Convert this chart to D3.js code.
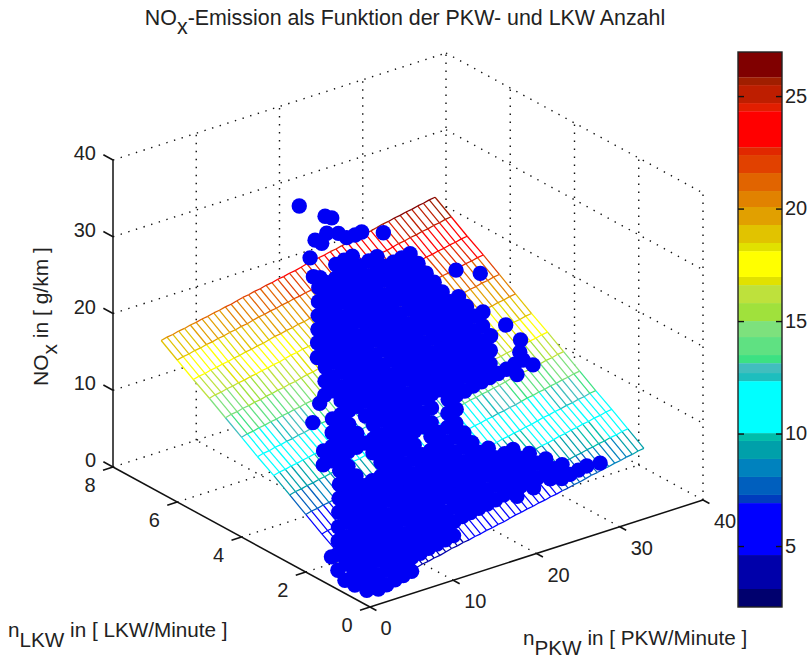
<!DOCTYPE html>
<html>
<head>
<meta charset="utf-8">
<script src="https://cdn.jsdelivr.net/npm/d3@7"></script>
<style>
body { margin: 0; background: #fff; }
text { font-family: "Liberation Sans", Arial, sans-serif; fill: #222; }
.tick text { font-size: 20px; }
</style>
</head>
<body>
<div id="chart"></div>
<script>
// axes
const pkwTicks = [0, 10, 20, 30, 40];
const lkwTicks = [0, 2, 4, 6, 8];
const noxTicks = [0, 10, 20, 30, 40];
const barTicks = [5, 10, 15, 20, 25];

// colour bar bands, edges in g/km
const bandEdges = [2.29, 3.09, 4.6, 6.91, 7.27, 8.07, 8.87, 9.67, 10.02, 12.33, 12.69, 13.13, 13.49, 14.29, 15.0, 15.8, 16.6, 16.96, 18.11, 18.47, 19.27, 20.07, 20.78, 21.58, 22.38, 22.73, 24.33, 24.69, 25.49, 25.84, 26.96];
const bandColors = ["#00006e", "#0000aa", "#0000ff", "#003cbe", "#005fbe", "#0082be", "#00a0aa", "#00beaa", "#00ffff", "#1ebebe", "#41bebe", "#3ce182", "#5fe182", "#7de17d", "#a0e13c", "#bee13c", "#e1e100", "#ffff00", "#e1e100", "#e1c300", "#e1a000", "#e18200", "#e16400", "#e14100", "#e12800", "#ff0000", "#e11e00", "#be1e00", "#a01e00", "#800000"];

// fitted surface
const meshPKW = [0, 0.7, 1.4, 2.1, 2.8, 3.5, 4.2, 4.9, 5.6, 6.3, 7, 7.7, 8.4, 9.1, 9.8, 10.5, 11.2, 11.9, 12.6, 13.3, 14, 14.7, 15.4, 16.1, 16.8, 17.5, 18.2, 18.9, 19.6, 20.3, 21, 21.7, 22.4, 23.1, 23.8, 24.5, 25.2, 25.9, 26.6, 27.3, 28, 28.7, 29.4, 30.1, 30.8, 31.5, 32.2, 32.9];
const meshLKW = [0, 0.5, 1, 1.5, 2, 2.5, 3, 3.5, 4, 4.5, 5, 5.5, 6, 6.5];
const meshNOx = [
  [2.0,2.2,2.3,2.5,2.6,2.8,2.9,3.1,3.2,3.4,3.5,3.7,3.8,4.0,4.2,4.3,4.5,4.6,4.8,4.9,5.1,5.2,5.4,5.5,5.7,5.9,6.0,6.2,6.3,6.5,6.6,6.8,6.9,7.1,7.2,7.4,7.5,7.7,7.9,8.0,8.2,8.3,8.5,8.6,8.8,8.9,9.1,9.2],
  [3.4,3.6,3.7,3.9,4.0,4.2,4.3,4.5,4.6,4.8,4.9,5.1,5.2,5.4,5.6,5.7,5.9,6.0,6.2,6.3,6.5,6.6,6.8,6.9,7.1,7.3,7.4,7.6,7.7,7.9,8.0,8.2,8.3,8.5,8.6,8.8,8.9,9.1,9.3,9.4,9.6,9.7,9.9,10.0,10.2,10.3,10.5,10.6],
  [4.8,5.0,5.1,5.3,5.4,5.6,5.7,5.9,6.0,6.2,6.3,6.5,6.6,6.8,7.0,7.1,7.3,7.4,7.6,7.7,7.9,8.0,8.2,8.3,8.5,8.7,8.8,9.0,9.1,9.3,9.4,9.6,9.7,9.9,10.0,10.2,10.3,10.5,10.7,10.8,11.0,11.1,11.3,11.4,11.6,11.7,11.9,12.0],
  [6.1,6.3,6.4,6.6,6.7,6.9,7.0,7.2,7.3,7.5,7.6,7.8,7.9,8.1,8.3,8.4,8.6,8.7,8.9,9.0,9.2,9.3,9.5,9.6,9.8,10.0,10.1,10.3,10.4,10.6,10.7,10.9,11.0,11.2,11.3,11.5,11.6,11.8,12.0,12.1,12.3,12.4,12.6,12.7,12.9,13.0,13.2,13.3],
  [7.5,7.7,7.8,8.0,8.1,8.3,8.4,8.6,8.7,8.9,9.0,9.2,9.3,9.5,9.7,9.8,10.0,10.1,10.3,10.4,10.6,10.7,10.9,11.0,11.2,11.4,11.5,11.7,11.8,12.0,12.1,12.3,12.4,12.6,12.7,12.9,13.0,13.2,13.4,13.5,13.7,13.8,14.0,14.1,14.3,14.4,14.6,14.7],
  [8.9,9.1,9.2,9.4,9.5,9.7,9.8,10.0,10.1,10.3,10.4,10.6,10.7,10.9,11.1,11.2,11.4,11.5,11.7,11.8,12.0,12.1,12.3,12.4,12.6,12.8,12.9,13.1,13.2,13.4,13.5,13.7,13.8,14.0,14.1,14.3,14.4,14.6,14.8,14.9,15.1,15.2,15.4,15.5,15.7,15.8,16.0,16.1],
  [10.3,10.5,10.6,10.8,10.9,11.1,11.2,11.4,11.5,11.7,11.8,12.0,12.1,12.3,12.5,12.6,12.8,12.9,13.1,13.2,13.4,13.5,13.7,13.8,14.0,14.2,14.3,14.5,14.6,14.8,14.9,15.1,15.2,15.4,15.5,15.7,15.8,16.0,16.2,16.3,16.5,16.6,16.8,16.9,17.1,17.2,17.4,17.5],
  [11.6,11.8,11.9,12.1,12.2,12.4,12.5,12.7,12.8,13.0,13.1,13.3,13.4,13.6,13.8,13.9,14.1,14.2,14.4,14.5,14.7,14.8,15.0,15.1,15.3,15.5,15.6,15.8,15.9,16.1,16.2,16.4,16.5,16.7,16.8,17.0,17.1,17.3,17.5,17.6,17.8,17.9,18.1,18.2,18.4,18.5,18.7,18.8],
  [13.0,13.2,13.3,13.5,13.6,13.8,13.9,14.1,14.2,14.4,14.5,14.7,14.8,15.0,15.2,15.3,15.5,15.6,15.8,15.9,16.1,16.2,16.4,16.5,16.7,16.9,17.0,17.2,17.3,17.5,17.6,17.8,17.9,18.1,18.2,18.4,18.5,18.7,18.9,19.0,19.2,19.3,19.5,19.6,19.8,19.9,20.1,20.2],
  [14.4,14.6,14.7,14.9,15.0,15.2,15.3,15.5,15.6,15.8,15.9,16.1,16.2,16.4,16.6,16.7,16.9,17.0,17.2,17.3,17.5,17.6,17.8,17.9,18.1,18.3,18.4,18.6,18.7,18.9,19.0,19.2,19.3,19.5,19.6,19.8,19.9,20.1,20.3,20.4,20.6,20.7,20.9,21.0,21.2,21.3,21.5,21.6],
  [15.8,16.0,16.1,16.3,16.4,16.6,16.7,16.9,17.0,17.2,17.3,17.5,17.6,17.8,18.0,18.1,18.3,18.4,18.6,18.7,18.9,19.0,19.2,19.3,19.5,19.7,19.8,20.0,20.1,20.3,20.4,20.6,20.7,20.9,21.0,21.2,21.3,21.5,21.7,21.8,22.0,22.1,22.3,22.4,22.6,22.7,22.9,23.0],
  [17.1,17.3,17.4,17.6,17.7,17.9,18.0,18.2,18.3,18.5,18.6,18.8,18.9,19.1,19.3,19.4,19.6,19.7,19.9,20.0,20.2,20.3,20.5,20.6,20.8,21.0,21.1,21.3,21.4,21.6,21.7,21.9,22.0,22.2,22.3,22.5,22.6,22.8,23.0,23.1,23.3,23.4,23.6,23.7,23.9,24.0,24.2,24.3],
  [18.5,18.7,18.8,19.0,19.1,19.3,19.4,19.6,19.7,19.9,20.0,20.2,20.3,20.5,20.7,20.8,21.0,21.1,21.3,21.4,21.6,21.7,21.9,22.0,22.2,22.4,22.5,22.7,22.8,23.0,23.1,23.3,23.4,23.6,23.7,23.9,24.0,24.2,24.4,24.5,24.7,24.8,25.0,25.1,25.3,25.4,25.6,25.7],
  [19.9,20.1,20.2,20.4,20.5,20.7,20.8,21.0,21.1,21.3,21.4,21.6,21.7,21.9,22.1,22.2,22.4,22.5,22.7,22.8,23.0,23.1,23.3,23.4,23.6,23.8,23.9,24.1,24.2,24.4,24.5,24.7,24.8,25.0,25.1,25.3,25.4,25.6,25.8,25.9,26.1,26.2,26.4,26.5,26.7,26.8,27.0,27.1]
];

// measured points, one row per LKW value
const cloudLKW = [0, 0.25, 0.35, 0.5, 0.75, 1, 1.25, 1.5, 1.75, 2, 2.25, 2.5, 2.75, 3, 3.25, 3.5, 3.75, 4, 4.25, 4.5, 4.75, 5, 5.25, 5.5, 5.75, 6, 6.25];
const cloudPKW = [
  [1,2,3,4,5],
  [0,1,2,3,4,5,6,7,8,9,10,11,24,25,26,27],
  [19,21,23],
  [0,1,2,3,4,5,6,7,8,9,10,11,12,13,14,15,16,17,18,19,20,21,22,23,24,25],
  [0,1,2,3,4,5,6,7,8,9,10,11,12,13,14,15,16,17,18,19,20,21,22,23,24],
  [0,1,2,3,4,5,6,7,8,9,10,11,12,13,14,15,16,17,18,19,20,21,22,23],
  [1,2,3,4,5,6,7,8,9,10,11,12,13,14,15,16,17,18,19,20,21,22],
  [2,3,4,5,6,7,8,9,10,11,12,13,14,15,16,17,18,19,20],
  [3,4,5,6,7,8,9,10,11,12,13,14,15,16,17,18,19],
  [4,5,6,7,8,9,10,11,12,13,14,15,16,17,18,19],
  [5,6,7,10,11,12,13,14,16,17,18,19],
  [6,7,10,11,12,13,14,15,16,17,19,20],
  [5,6,7,8,9,10,11,12,13,14,15,16,17,18,20,21,22,23,24,25,26,27,28,29],
  [6,7,8,9,10,12,13,14,15,16,17,18,19,20,21,22,23,24,25,26],
  [8,9,10,12,13,14,15,16,17,18,19,20,21,22,23,24,25,26,27],
  [9,10,11,12,13,14,15,16,17,18,19,20,21,22,23,24,25,26,27,28],
  [11,12,13,14,15,16,17,18,19,20,21,22,23,24,25,26,27,28],
  [10,11,12,13,14,15,16,17,18,19,20,21,22,23,24,25,26,27,28,29],
  [11,12,13,14,15,16,17,18,19,20,21,22,23,24,25,26,27,28],
  [12,13,14,15,16,17,18,19,20,21,22,23,24,25,26,27,28],
  [12,13,14,15,16,17,18,19,20,21,22,23,24,25,26,27],
  [13,14,15,16,17,18,19,20,21,22,23,24,25,26,27],
  [14,15,16,17,18,19,20,21,22,23,24,25,26,27],
  [15,16,17,18,19,20,21,22,23,24,25,26,27],
  [16,17,18,19,20,21,22,23,24,25,26,27],
  [17,18,19,20,21,22,23,24],
  [20,21,22]
];
const cloudNOx = [
  [2.0,2.2,2.5,2.7,2.9],
  [2.5,2.7,2.9,3.2,3.4,3.6,3.8,4.0,4.3,4.5,4.7,4.9,7.8,8.0,8.2,8.4],
  [7.0,7.4,7.9],
  [3.2,3.4,3.6,3.9,4.1,4.3,4.5,4.7,5.0,5.2,5.4,5.6,5.8,6.1,6.3,6.5,6.7,6.9,7.2,7.4,7.6,7.8,8.0,8.3,8.5,8.7],
  [3.9,4.1,4.3,4.6,4.8,5.0,5.2,5.4,5.7,5.9,6.1,6.3,6.5,6.8,7.0,7.2,7.4,7.6,7.9,8.1,8.3,8.5,8.7,9.0,9.2],
  [4.6,4.8,5.0,5.3,5.5,5.7,5.9,6.1,6.4,6.6,6.8,7.0,7.2,7.5,7.7,7.9,8.1,8.3,8.6,8.8,9.0,9.2,9.4,9.7],
  [5.4,5.6,5.9,6.1,6.3,6.5,6.7,7.0,7.2,7.4,7.6,7.8,8.1,8.3,8.5,8.7,8.9,9.2,9.4,9.6,9.8,10.0],
  [6.3,6.6,6.8,7.0,7.2,7.4,7.7,7.9,8.1,8.3,8.5,8.8,9.0,9.2,9.4,9.6,9.9,10.1,10.3],
  [7.3,7.5,7.7,7.9,8.1,8.4,8.6,8.8,9.0,9.2,9.5,9.7,9.9,10.1,10.3,10.6,10.8],
  [8.2,8.4,8.6,8.8,9.1,9.3,9.5,9.7,9.9,10.2,10.4,10.6,10.8,11.0,11.3,11.5],
  [9.1,9.3,9.5,10.2,10.4,10.6,10.9,11.1,11.5,11.7,12.0,12.2],
  [10.0,10.2,10.9,11.1,11.3,11.6,11.8,12.0,12.2,12.4,12.9,13.1],
  [10.5,10.7,10.9,11.2,11.4,11.6,11.8,12.0,12.3,12.5,12.7,12.9,13.1,13.4,13.8,14.0,14.2,14.5,14.7,14.9,15.1,15.3,15.6,15.8],
  [11.4,11.6,11.9,12.1,12.3,12.7,13.0,13.2,13.4,13.6,13.8,14.1,14.3,14.5,14.7,14.9,15.2,15.4,15.6,15.8],
  [12.5,12.7,12.9,13.3,13.6,13.8,14.0,14.2,14.4,14.7,14.9,15.1,15.3,15.5,15.8,16.0,16.2,16.4,16.6],
  [13.4,13.6,13.8,14.0,14.3,14.5,14.7,14.9,15.1,15.4,15.6,15.8,16.0,16.2,16.5,16.7,16.9,17.1,17.3,17.6],
  [14.5,14.7,15.0,15.2,15.4,15.6,15.8,16.1,16.3,16.5,16.7,16.9,17.2,17.4,17.6,17.8,18.0,18.3],
  [15.0,15.2,15.4,15.7,15.9,16.1,16.3,16.5,16.8,17.0,17.2,17.4,17.6,17.9,18.1,18.3,18.5,18.7,19.0,19.2],
  [15.9,16.1,16.4,16.6,16.8,17.0,17.2,17.5,17.7,17.9,18.1,18.3,18.6,18.8,19.0,19.2,19.4,19.7],
  [16.8,17.1,17.3,17.5,17.7,17.9,18.2,18.4,18.6,18.8,19.0,19.3,19.5,19.7,19.9,20.1,20.4],
  [17.5,17.8,18.0,18.2,18.4,18.6,18.9,19.1,19.3,19.5,19.7,20.0,20.2,20.4,20.6,20.8],
  [18.5,18.7,18.9,19.1,19.3,19.6,19.8,20.0,20.2,20.4,20.7,20.9,21.1,21.3,21.5],
  [19.3,19.5,19.7,19.9,20.2,20.4,20.6,20.8,21.0,21.3,21.5,21.7,21.9,22.1],
  [20.2,20.4,20.6,20.9,21.1,21.3,21.5,21.7,22.0,22.2,22.4,22.6,22.8],
  [21.1,21.3,21.6,21.8,22.0,22.2,22.4,22.7,22.9,23.1,23.3,23.5],
  [22.0,22.3,22.5,22.7,22.9,23.1,23.4,23.6],
  [23.4,23.6,23.8]
];

// points that stand apart from the main cloud
const looseLKW = [1.2, 0.78, 1, 0.47, 0.1, 3.62, 3.9, 2.57, 2.93, 3.14, 3.55, 4.73, 5.02, 2.55, 0.17, 6.4, 6.4, 6.4, 6.4, 6.4, 6.4, 6.4, 6.4, 6.4, 6.4, 6.4, 6.4, 6.4, 6.4];
const loosePKW = [0, 0, 0, 0, 0, 7.1, 9, 29.5, 29.3, 30.2, 30, 31.5, 29.7, 27.5, 28.3, 16.2, 19.3, 20.1, 18.1, 19.5, 20.9, 17.5, 22.9, 23.7, 26.3, 17.9, 18.9, 18.7, 21.9];
const looseNOx = [3.8, 1.7, 2.5, 1.8, 1.95, 13.3, 14.5, 15.4, 16.3, 17.1, 18.2, 21.7, 22.1, 14.9, 8.5, 32, 29.6, 29.1, 26.9, 27.3, 26.8, 24.8, 25.9, 26, 25, 22.2, 26.2, 21.8, 25.9];

const width = 810, height = 657;

const svg = d3.select("#chart").append("svg")
    .attr("width", width)
    .attr("height", height)
    .style("display", "block");

// oblique view of the box, one scale per screen direction
const pkwX = d3.scaleLinear().domain([0, 40]).range([0, 333]);
const pkwY = d3.scaleLinear().domain([0, 40]).range([0, -107]);
const lkwX = d3.scaleLinear().domain([0, 8]).range([0, -257]);
const lkwY = d3.scaleLinear().domain([0, 8]).range([0, -140]);
const noxY = d3.scaleLinear().domain([0, 40]).range([0, -307]);
const originX = 370, originY = 607;

function project(p, l, z) {
    return [originX + pkwX(p) + lkwX(l), originY + pkwY(p) + lkwY(l) + noxY(z)];
}

const colorScale = d3.scaleThreshold().domain(bandEdges.slice(1, -1)).range(bandColors);
const line = d3.line();

function segment(parent, a, b, cls) {
    return parent.append("path").attr("class", cls).attr("d", line([a, b])).attr("fill", "none");
}

// dotted box grid
const grid = svg.append("g").attr("stroke", "#111").attr("stroke-width", 1.4).attr("stroke-dasharray", "1.4,6.6");
const pMax = pkwTicks[pkwTicks.length - 1], lMax = lkwTicks[lkwTicks.length - 1], zMax = noxTicks[noxTicks.length - 1];

noxTicks.forEach(z => {
    if (z > 0) {
        segment(grid, project(0, lMax, z), project(pMax, lMax, z), "grid");
        segment(grid, project(pMax, lMax, z), project(pMax, 0, z), "grid");
    }
});
pkwTicks.forEach(p => {
    if (p > 0) {
        segment(grid, project(p, lMax, 0), project(p, lMax, zMax), "grid");
        segment(grid, project(p, 0, 0), project(p, lMax, 0), "grid");
    }
});
lkwTicks.forEach(l => {
    if (l > 0) segment(grid, project(0, l, 0), project(pMax, l, 0), "grid");
    if (l < lMax) {
        segment(grid, project(pMax, l, 0), project(pMax, l, zMax), "grid");
    }
});

// surface: white sheet, then the coloured mesh
const nR = meshLKW.length - 1, nC = meshPKW.length - 1;
svg.append("path")
    .attr("d", line([
        project(meshPKW[0], meshLKW[0], meshNOx[0][0]),
        project(meshPKW[nC], meshLKW[0], meshNOx[0][nC]),
        project(meshPKW[nC], meshLKW[nR], meshNOx[nR][nC]),
        project(meshPKW[0], meshLKW[nR], meshNOx[nR][0])
    ]) + "Z")
    .attr("fill", "#fff");

const mesh = svg.append("g").attr("stroke-width", 1.25).attr("fill", "none");
meshLKW.forEach((l, r) => {
    meshPKW.forEach((p, c) => {
        const here = project(p, l, meshNOx[r][c]);
        if (c < nC) {
            segment(mesh, here, project(meshPKW[c + 1], l, meshNOx[r][c + 1]), "mesh")
                .attr("stroke", colorScale(meshNOx[r][c]));
        }
        if (r < nR) {
            segment(mesh, here, project(p, meshLKW[r + 1], meshNOx[r + 1][c]), "mesh")
                .attr("stroke", colorScale(meshNOx[r][c]));
        }
    });
});

// solid axes with their short ticks
const axes = svg.append("g").attr("stroke", "#111").attr("stroke-width", 1.5).attr("fill", "none");
segment(axes, project(0, 0, 0), project(pMax, 0, 0), "axis");
segment(axes, project(0, 0, 0), project(0, lMax, 0), "axis");
segment(axes, project(0, lMax, 0), project(0, lMax, zMax), "axis");

pkwTicks.forEach(p => segment(axes, project(p, 0, 0), project(p, -0.2, 0), "tick-mark"));
lkwTicks.forEach(l => segment(axes, project(0, l, 0), project(-1.2, l, 0), "tick-mark"));
noxTicks.forEach(z => segment(axes, project(0, lMax, z), project(0, lMax + 0.3, z), "tick-mark"));

// measured points
const cloud = [];
cloudLKW.forEach((l, r) => {
    cloudPKW[r].forEach((p, i) => cloud.push([p, l, cloudNOx[r][i]]));
});
looseLKW.forEach((l, i) => cloud.push([loosePKW[i], l, looseNOx[i]]));

svg.append("g").selectAll("circle")
    .data(cloud)
    .enter()
    .append("circle")
    .attr("cx", d => project(d[0], d[1], d[2])[0])
    .attr("cy", d => project(d[0], d[1], d[2])[1])
    .attr("r", 7.7)
    .attr("fill", "#0000f5");

// tick labels
const labels = svg.append("g").attr("font-size", 20);
labels.selectAll("text.noxLabel")
    .data(noxTicks)
    .enter()
    .append("text")
    .attr("class", "noxLabel")
    .attr("x", d => project(0, lMax, d)[0] - 17)
    .attr("y", d => project(0, lMax, d)[1] - 7)
    .attr("dy", "0.35em")
    .style("text-anchor", "end")
    .text(d => d);
labels.selectAll("text.lkwLabel")
    .data(lkwTicks)
    .enter()
    .append("text")
    .attr("class", "lkwLabel")
    .attr("x", d => project(0, d, 0)[0] - 23)
    .attr("y", d => project(0, d, 0)[1] + 18)
    .attr("dy", "0.35em")
    .style("text-anchor", "middle")
    .text(d => d);
labels.selectAll("text.pkwLabel")
    .data(pkwTicks)
    .enter()
    .append("text")
    .attr("class", "pkwLabel")
    .attr("x", d => project(d, 0, 0)[0] + (d === 0 ? 16 : 22))
    .attr("y", d => project(d, 0, 0)[1] + 21)
    .attr("dy", "0.35em")
    .style("text-anchor", "middle")
    .text(d => d);

// colour bar
const barLeft = 738, barRight = 782;
const barY = d3.scaleLinear().domain([bandEdges[0], bandEdges[bandEdges.length - 1]]).range([607, 52]);

svg.append("g").selectAll("rect")
    .data(bandColors)
    .enter()
    .append("rect")
    .attr("x", barLeft)
    .attr("width", barRight - barLeft)
    .attr("y", (d, i) => barY(bandEdges[i + 1]))
    .attr("height", (d, i) => barY(bandEdges[i]) - barY(bandEdges[i + 1]))
    .attr("fill", d => d);

svg.append("rect")
    .attr("x", barLeft)
    .attr("y", barY.range()[1])
    .attr("width", barRight - barLeft)
    .attr("height", barY.range()[0] - barY.range()[1])
    .attr("fill", "none")
    .attr("stroke", "#222")
    .attr("stroke-width", 1.4);

const barAxisRight = d3.axisRight(barY).tickValues(barTicks).tickSize(-6).tickPadding(3).tickFormat(d => d);
const barAxisLeft = d3.axisLeft(barY).tickValues(barTicks).tickSize(-6).tickFormat("");
const barG = svg.append("g").attr("transform", `translate(${barRight},0)`).call(barAxisRight);
const barG2 = svg.append("g").attr("transform", `translate(${barLeft},0)`).call(barAxisLeft);
[barG, barG2].forEach(g => {
    g.select(".domain").remove();
    g.selectAll("line").attr("stroke", "#111").attr("stroke-width", 1.4);
    g.selectAll("text").style("font-family", '"Liberation Sans"');
});

// title and axis names
const title = svg.append("text").attr("x", 405).attr("y", 25).attr("font-size", 21.4).style("text-anchor", "middle");
title.append("tspan").text("NO");
title.append("tspan").attr("dy", 9).text("x");
title.append("tspan").attr("dy", -9).text("-Emission als Funktion der PKW- und LKW Anzahl");

const lkwName = svg.append("text").attr("x", 8).attr("y", 637).attr("font-size", 20.7);
lkwName.append("tspan").text("n");
lkwName.append("tspan").attr("dy", 10).text("LKW");
lkwName.append("tspan").attr("dy", -10).text(" in [ LKW/Minute ]");

const pkwName = svg.append("text").attr("x", 523).attr("y", 645).attr("font-size", 20.7);
pkwName.append("tspan").text("n");
pkwName.append("tspan").attr("dy", 10).text("PKW");
pkwName.append("tspan").attr("dy", -10).text(" in [ PKW/Minute ]");

const noxName = svg.append("text").attr("transform", "translate(48,386) rotate(-90)").attr("font-size", 21);
noxName.append("tspan").text("NO");
noxName.append("tspan").attr("dy", 9).text("x");
noxName.append("tspan").attr("dy", -9).text(" in [ g/km ]");
</script>
</body>
</html>
